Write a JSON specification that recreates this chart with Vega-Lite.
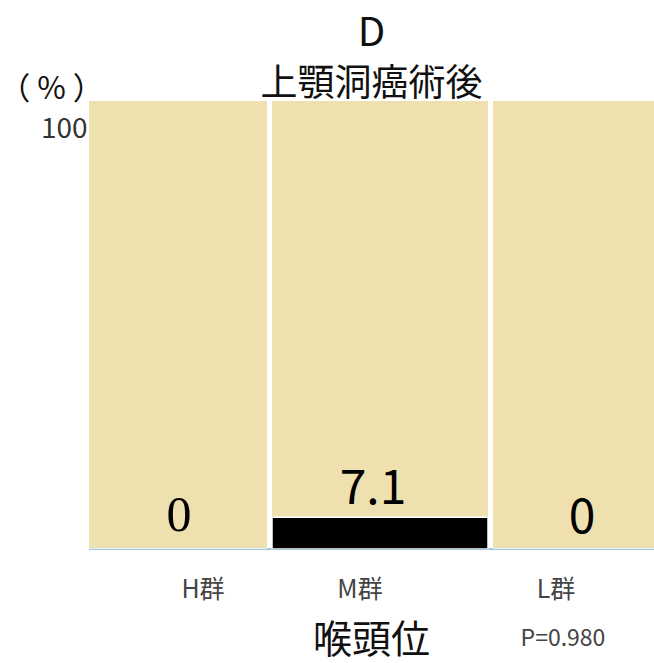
{
  "$schema": "https://vega.github.io/schema/vega-lite/v6.json",
  "autosize": {"type": "none"},
  "padding": {"left": 89, "top": 101, "right": 0, "bottom": 114},
  "width": 565,
  "height": 448,
  "background": "#ffffff",
  "config": {
    "view": {"stroke": null},
    "font": "Noto Sans CJK JP"
  },
  "title": {
    "text": "D",
    "subtitle": "上顎洞癌術後",
    "fontSize": 40,
    "fontWeight": "normal",
    "color": "#111111",
    "subtitleFontSize": 37,
    "subtitleColor": "#111111",
    "subtitlePadding": 13,
    "anchor": "middle",
    "offset": -30
  },
  "data": {
    "values": [
      {"group": "H群", "value": 0},
      {"group": "M群", "value": 7.1},
      {"group": "L群", "value": 0}
    ]
  },
  "layer": [
    {
      "mark": {"type": "bar", "color": "#eee0af", "clip": true},
      "encoding": {
        "x": {
          "field": "group",
          "type": "nominal",
          "sort": ["H群", "M群", "L群"],
          "scale": {"range": [-38, 620], "paddingInner": 0.0226, "paddingOuter": 0},
          "axis": {
            "title": "喉頭位",
            "titleFontSize": 39,
            "titleFontWeight": "normal",
            "titleColor": "#111111",
            "titleX": 282,
            "titleY": 91,
            "titleAlign": "center",
            "titleBaseline": "middle",
            "labelFontSize": 25,
            "labelColor": "#444444",
            "labelPadding": 28,
            "labelAngle": 0,
            "labelOffset": {"expr": "datum.value == 'H群' ? 44 : datum.value == 'M群' ? -20 : -45"},
            "ticks": false,
            "domain": false
          }
        },
        "y": {
          "datum": 100,
          "type": "quantitative",
          "scale": {"domain": [0, 100], "nice": false},
          "axis": {
            "title": "（ % ）",
            "titleAngle": 0,
            "titleFontSize": 31,
            "titleFontWeight": "normal",
            "titleColor": "#111111",
            "titleX": -38,
            "titleY": -12,
            "titleAlign": "center",
            "titleBaseline": "middle",
            "values": [100],
            "labelFontSize": 28,
            "labelColor": "#333333",
            "labelPadding": 2,
            "labelBaseline": "top",
            "labelOffset": 14,
            "ticks": false,
            "domain": false,
            "grid": false
          }
        },
        "y2": {"datum": 0}
      }
    },
    {
      "mark": {"type": "rule", "color": "#a3c7d8", "strokeWidth": 2},
      "encoding": {
        "y": {"datum": 0, "type": "quantitative"}
      }
    },
    {
      "mark": {"type": "bar", "color": "#000000", "stroke": "#ffffff", "strokeWidth": 1.5, "clip": true},
      "encoding": {
        "x": {"field": "group", "type": "nominal", "sort": ["H群", "M群", "L群"]},
        "y": {"field": "value", "type": "quantitative"},
        "y2": {"datum": 0}
      }
    },
    {
      "transform": [{"filter": "datum.group == 'H群'"}],
      "mark": {"type": "text", "font": "Liberation Serif", "fontSize": 50, "color": "#000000", "baseline": "alphabetic", "dx": 20, "dy": -18},
      "encoding": {
        "x": {"field": "group", "type": "nominal", "sort": ["H群", "M群", "L群"]},
        "y": {"field": "value", "type": "quantitative"},
        "text": {"field": "value", "type": "quantitative"}
      }
    },
    {
      "transform": [{"filter": "datum.group == 'M群'"}],
      "mark": {"type": "text", "fontSize": 48, "color": "#000000", "baseline": "alphabetic", "dx": -7, "dy": -13},
      "encoding": {
        "x": {"field": "group", "type": "nominal", "sort": ["H群", "M群", "L群"]},
        "y": {"field": "value", "type": "quantitative"},
        "text": {"field": "value", "type": "quantitative", "format": ".1f"}
      }
    },
    {
      "transform": [{"filter": "datum.group == 'L群'"}],
      "mark": {"type": "text", "fontSize": 48, "color": "#000000", "baseline": "alphabetic", "dx": -19, "dy": -16},
      "encoding": {
        "x": {"field": "group", "type": "nominal", "sort": ["H群", "M群", "L群"]},
        "y": {"field": "value", "type": "quantitative"},
        "text": {"field": "value", "type": "quantitative"}
      }
    },
    {
      "data": {"values": [{"group": "L群", "note": "P=0.980"}]},
      "mark": {"type": "text", "fontSize": 23, "color": "#444444", "baseline": "middle", "dx": -38, "dy": 90},
      "encoding": {
        "x": {"field": "group", "type": "nominal", "sort": ["H群", "M群", "L群"]},
        "y": {"datum": 0, "type": "quantitative"},
        "text": {"field": "note"}
      }
    }
  ]
}
